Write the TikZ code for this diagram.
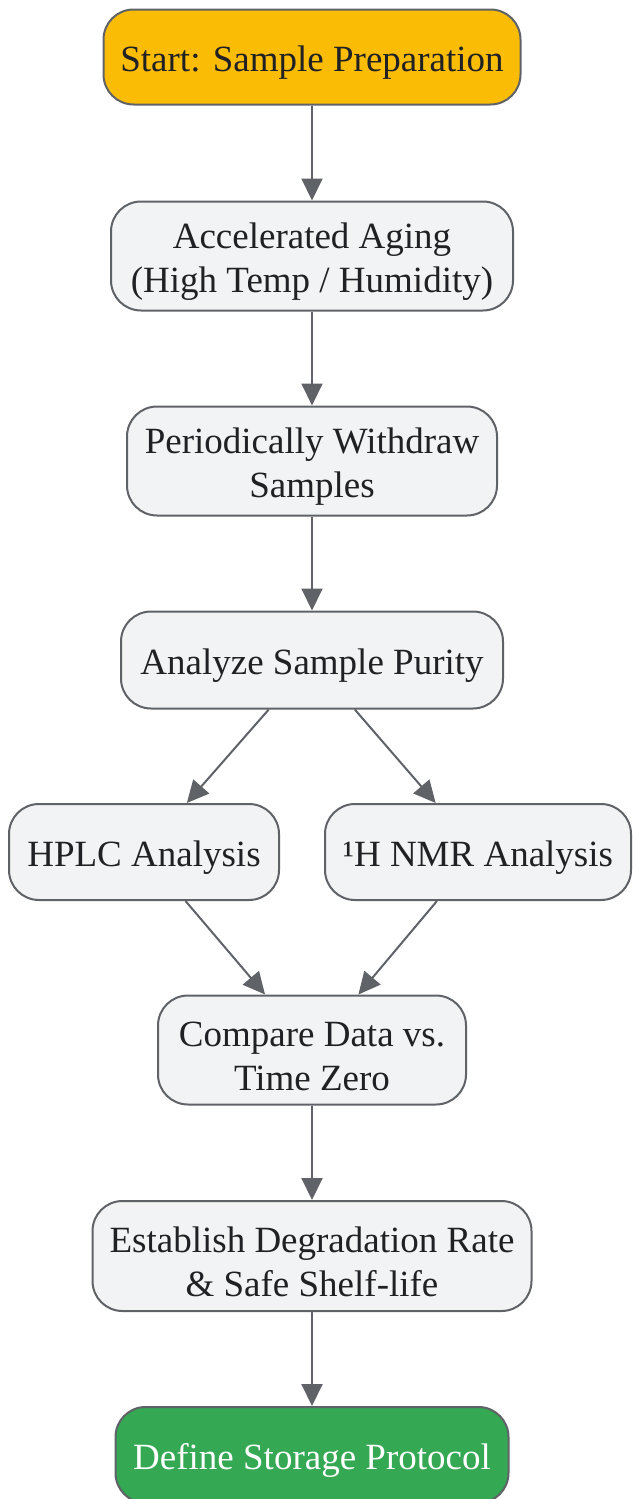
\documentclass[tikz,border=0pt]{standalone}
\usepackage{fontspec}
\setmainfont{Liberation Serif}
\usetikzlibrary{arrows.meta}
\definecolor{boxfill}{HTML}{F1F3F4}
\definecolor{boxline}{HTML}{5F6368}
\definecolor{boxtext}{HTML}{202124}
\definecolor{startfill}{HTML}{FBBC05}
\definecolor{endfill}{HTML}{34A853}
\newcommand{\lift}{\rule{0pt}{37pt}}
\tikzset{
    stepnode/.style = {draw=boxline, line width=2pt, fill=boxfill, text=boxtext,
        rounded corners=30pt, align=center, inner sep=0pt,
        font=\fontsize{37}{44}\selectfont},
    startnode/.style = {stepnode, fill=startfill},
    endnode/.style = {stepnode, fill=endfill, text=white},
    flow/.style = {draw=boxline, line width=2pt, -{Triangle[length=22pt,width=21pt]}},
}

\begin{document}
\begin{tikzpicture}[x=1pt, y=-1pt]
            \useasboundingbox (0, 0) rectangle (632, 1499);

            \node[startnode, minimum width=417pt, minimum height=95pt] (start) at (312, 57) {\lift Start: Sample Preparation};
            \node[stepnode, minimum width=402pt, minimum height=109pt] (aging) at (312, 256) {\lift Accelerated Aging\\(High Temp / Humidity)};
            \node[stepnode, minimum width=370pt, minimum height=109pt] (withdraw) at (312, 461) {\lift Periodically Withdraw\\Samples};
            \node[stepnode, minimum width=382pt, minimum height=97pt] (analyze) at (312, 660) {\lift Analyze Sample Purity};

            \node[stepnode, minimum width=270pt, minimum height=96pt] (hplc) at (144, 852) {\lift HPLC Analysis};
            \node[stepnode, minimum width=306pt, minimum height=96pt] (nmr) at (478, 852) {\lift ¹H NMR Analysis};

            \node[stepnode, minimum width=308pt, minimum height=109pt] (compare) at (312, 1050) {\lift Compare Data vs.\\Time Zero};
            \node[stepnode, minimum width=439pt, minimum height=110pt] (rate) at (312, 1256) {\lift Establish Degradation Rate\\\& Safe Shelf-life};
            \node[endnode, minimum width=393pt, minimum height=96pt] (storage) at (312, 1455) {\lift Define Storage Protocol};

            \draw[flow] (start) -- (aging);
            \draw[flow] (aging) -- (withdraw);
            \draw[flow] (withdraw) -- (analyze);
            \draw[flow] (analyze) -- (hplc);
            \draw[flow] (analyze) -- (nmr);
            \draw[flow] (hplc) -- (compare);
            \draw[flow] (nmr) -- (compare);
            \draw[flow] (compare) -- (rate);
            \draw[flow] (rate) -- (storage);
        \end{tikzpicture}
\end{document}
